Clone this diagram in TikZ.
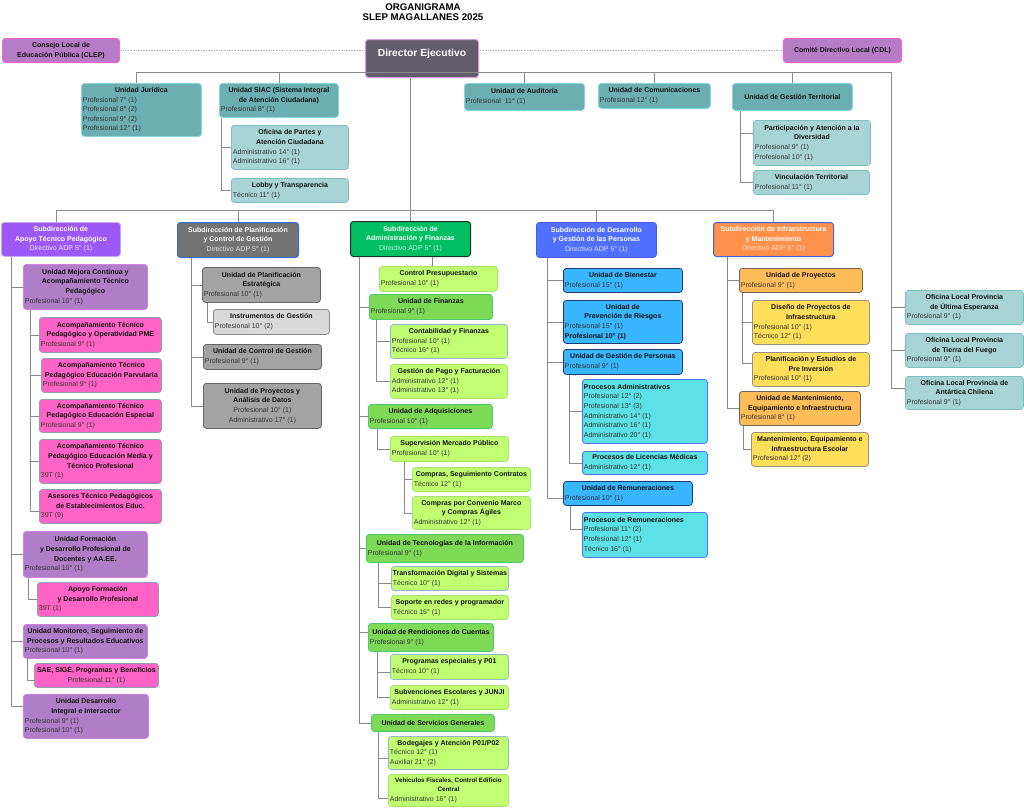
\documentclass[tikz,border=0pt]{standalone}
\usepackage{fontspec}
\setmainfont{Liberation Sans}
\usetikzlibrary{calc}
\definecolor{cTealD}{HTML}{6BAFB3}\definecolor{cTealDb}{HTML}{88D6DA}
\definecolor{cTealL}{HTML}{A8D4D5}\definecolor{cTealLb}{HTML}{7EC0C2}
\definecolor{cClep}{HTML}{B67DC6}\definecolor{cClepb}{HTML}{FF5FC8}
\definecolor{cDir}{HTML}{625E6E}\definecolor{cDirb}{HTML}{D29BE0}
\definecolor{cApoS}{HTML}{9D59F5}\definecolor{cApoSb}{HTML}{C8A8F5}
\definecolor{cPurU}{HTML}{B07DC7}\definecolor{cPurUb}{HTML}{D07FE0}
\definecolor{cPink}{HTML}{FF63C5}\definecolor{cPinkb}{HTML}{8BA0B0}
\definecolor{cPlanS}{HTML}{737373}\definecolor{cPlanSb}{HTML}{2F6FE0}
\definecolor{cGrayU}{HTML}{A3A3A3}\definecolor{cGrayUb}{HTML}{666666}
\definecolor{cGrayL}{HTML}{D9D9D9}\definecolor{cGrayLb}{HTML}{888888}
\definecolor{cAyfS}{HTML}{00BF63}\definecolor{cAyfSb}{HTML}{1E3328}
\definecolor{cLime}{HTML}{C1FF72}\definecolor{cLimeb}{HTML}{A8E46B}\definecolor{cLimec}{HTML}{8FB8C8}
\definecolor{cGreenU}{HTML}{7ED957}\definecolor{cGreenUb}{HTML}{4DC968}
\definecolor{cDesS}{HTML}{5170FF}\definecolor{cDesSb}{HTML}{3F5BE8}
\definecolor{cSky}{HTML}{38B6FF}\definecolor{cSkyb}{HTML}{1F3A78}
\definecolor{cCyan}{HTML}{5CE1E6}\definecolor{cCyanb}{HTML}{4F72F7}
\definecolor{cInfS}{HTML}{FF914D}\definecolor{cInfSb}{HTML}{3E66D6}
\definecolor{cOrgU}{HTML}{FFBD59}\definecolor{cOrgUb}{HTML}{6F6556}
\definecolor{cYel}{HTML}{FFDE59}\definecolor{cYelb}{HTML}{9A9080}
\definecolor{cLine}{HTML}{8A8A8A}\definecolor{cDot}{HTML}{BDBDBD}
\definecolor{ttx}{HTML}{111111}\definecolor{dtx}{HTML}{333333}
\newcommand\bxT[1]{\centerline{\bfseries\color{ttx}#1}}
\newcommand\bxD[1]{\leftline{\color{dtx}#1}}
\newcommand\bxC[1]{\centerline{\color{dtx}#1}}
\newcommand\bxB[1]{\leftline{\bfseries\color{ttx}#1}}
\newcommand\bxW[1]{\centerline{\bfseries\color{white}#1}}
\newcommand\bxS[2]{\centerline{\color{#1}#2}}
\newcommand\ob[7]{%
  \pgfmathsetmacro\obw{#5-#3}\pgfmathsetmacro\obh{#6-#4}\pgfmathsetmacro\obt{#5-#3-3}%
  \node[obox,#2,anchor=north west,minimum width=\obw pt,minimum height=\obh pt] (#1) at (#3,#4) {\vbox{\hsize=\obt pt\relax #7}};}
\begin{document}
\begin{tikzpicture}[x=1pt,y=-1pt,
  obox/.style={rounded corners=3pt,line width=0.8pt,inner xsep=1.5pt,inner ysep=1pt,font=\fontsize{7}{9.6}\selectfont},
  tealD/.style={fill=cTealD,draw=cTealDb},
  tealL/.style={fill=cTealL,draw=cTealLb},
  clepst/.style={fill=cClep,draw=cClepb,line width=1pt},
  apoS/.style={fill=cApoS,draw=cApoSb},
  purU/.style={fill=cPurU,draw=cPurUb},
  pinkB/.style={fill=cPink,draw=cPinkb},
  planS/.style={fill=cPlanS,draw=cPlanSb,line width=1pt},
  grayU/.style={fill=cGrayU,draw=cGrayUb},
  grayL/.style={fill=cGrayL,draw=cGrayLb},
  ayfS/.style={fill=cAyfS,draw=cAyfSb,line width=1pt},
  limeB/.style={fill=cLime,draw=cLimeb},
  limeC/.style={fill=cLime,draw=cLimec},
  greenU/.style={fill=cGreenU,draw=cGreenUb},
  desS/.style={fill=cDesS,draw=cDesSb},
  skyU/.style={fill=cSky,draw=cSkyb},
  cyanB/.style={fill=cCyan,draw=cCyanb},
  infS/.style={fill=cInfS,draw=cInfSb,line width=1pt},
  orgU/.style={fill=cOrgU,draw=cOrgUb},
  yelB/.style={fill=cYel,draw=cYelb},
  dirst/.style={fill=cDir,draw=cDirb,line width=1pt,rounded corners=3pt,text=white,font=\bfseries\fontsize{10.3}{12}\selectfont},
  conn/.style={draw=cLine,line width=0.8pt},
  dotl/.style={draw=cDot,line width=1.3pt,dash pattern=on 1.6pt off 1pt}]
\useasboundingbox (0,0) rectangle (1024,807);
\fill[white] (0,0) rectangle (1024,807);
% coordinates for free ends
\coordinate (hR) at (891,72);
\coordinate (h2) at (0,210);
% title
\node[font=\bfseries\fontsize{9.7}{10}\selectfont,align=center,inner sep=0] (ttl) at (423,12) {ORGANIGRAMA\\SLEP MAGALLANES 2025};
% top
\node[dirst,anchor=north west,minimum width=113pt,minimum height=38pt,text height=7.5pt,text depth=11pt] (dir) at (365,39) {Director Ejecutivo};
\ob{clep}{clepst}{2}{38}{119}{62}{\bxT{Consejo Local de}\bxT{Educación Pública (CLEP)}}
\ob{cdl}{clepst}{783}{38}{901}{62}{\bxT{Comité Directivo Local (CDL)}}
\ob{jur}{tealD}{81}{83}{201}{136}{\bxT{Unidad Jurídica}\bxD{Profesional 7° (1)}\bxD{Profesional 8° (2)}\bxD{Profesional 9° (2)}\bxD{Profesional 12° (1)}}
\ob{siac}{tealD}{219}{83}{338}{117}{\bxT{Unidad SIAC (Sistema Integral}\bxT{de Atención Ciudadana)}\bxD{Profesional 8° (1)}}
\ob{partes}{tealL}{231}{125}{348}{169}{\bxT{Oficina de Partes y}\bxT{Atención Ciudadana}\bxD{Administrativo 14° (1)}\bxD{Administrativo 16° (1)}}
\ob{lobby}{tealL}{231}{178}{348}{202}{\bxT{Lobby y Transparencia}\bxD{Técnico 11° (1)}}
\ob{aud}{tealD}{464}{83}{584}{110}{\bxT{Unidad de Auditoría}\bxD{Profesional~ 11° (1)}}
\ob{com}{tealD}{598}{83}{710}{108}{\bxT{Unidad de Comunicaciones}\bxD{Profesional 12° (1)}}
\ob{ter}{tealD}{732}{83}{852}{110}{\bxT{Unidad de Gestión Territorial}}
\ob{part}{tealL}{753}{120}{870}{165}{\bxT{Participación y Atención a la}\bxT{Diversidad}\bxD{Profesional 9° (1)}\bxD{Profesional 10° (1)}}
\ob{vinc}{tealL}{753}{170}{869}{194}{\bxT{Vinculación Territorial}\bxD{Profesional 11° (1)}}
\ob{ofue}{tealL}{905}{290}{1023}{324}{\bxT{Oficina Local Provincia}\bxT{de Última Esperanza}\bxD{Profesional 9° (1)}}
\ob{oftf}{tealL}{905}{333}{1023}{367}{\bxT{Oficina Local Provincia}\bxT{de Tierra del Fuego}\bxD{Profesional 9° (1)}}
\ob{ofan}{tealL}{905}{376}{1023}{409}{\bxT{Oficina Local Provincia de}\bxT{Antártica Chilena}\bxD{Profesional 9° (1)}}
% subdirections
\ob{sapo}{apoS}{1}{222}{120}{256}{\bxW{Subdirección de}\bxW{Apoyo Técnico Pedagógico}\bxS{white!85!cApoS}{Directivo ADP 5° (1)}}
\ob{splan}{planS}{177}{222}{298}{257}{\bxW{Subdirección de Planificación}\bxW{y Control de Gestión}\bxS{white!80!cPlanS}{Directivo ADP 5° (1)}}
\ob{sayf}{ayfS}{350}{221}{470}{256}{\bxW{Subdirección de}\bxW{Administración y Finanzas}\bxS{white!80!cAyfS}{Directivo ADP 5° (1)}}
\ob{sdes}{desS}{536}{222}{656}{257}{\bxW{Subdirección de Desarrollo}\bxW{y Gestión de las Personas}\bxS{white!80!cDesS}{Directivo ADP 5° (1)}}
\ob{sinf}{infS}{713}{222}{833}{256}{\bxW{Subdirección de Infraestructura}\bxW{y Mantenimiento}\bxS{white!75!cInfS}{Directivo ADP 6° (1)}}
% column 1
\ob{mej}{purU}{23}{264}{147}{309}{\bxT{Unidad Mejora Continua y}\bxT{Acompañamiento Técnico}\bxT{Pedagógico}\bxD{Profesional 10° (1)}}
\ob{pme}{pinkB}{39}{317}{161}{352}{\bxT{Acompañamiento Técnico}\bxT{Pedagógico y Operatividad PME}\bxD{Profesional 9° (1)}}
\ob{parv}{pinkB}{41}{358}{161}{392}{\bxT{Acompañamiento Técnico}\bxT{Pedagógico Educación Parvularia}\bxD{Profesional 9° (1)}}
\ob{esp}{pinkB}{39}{399}{161}{432}{\bxT{Acompañamiento Técnico}\bxT{Pedagógico Educación Especial}\bxD{Profesional 9° (1)}}
\ob{mtp}{pinkB}{39}{439}{161}{483}{\bxT{Acompañamiento Técnico}\bxT{Pedagógico Educación Media y}\bxT{Técnico Profesional}\bxD{39T (1)}}
\ob{ases}{pinkB}{39}{489}{161}{523}{\bxT{Asesores Técnico Pedagógicos}\bxT{de Establecimientos Educ.}\bxD{39T (9)}}
\ob{form}{purU}{23}{531}{147}{577}{\bxT{Unidad Formación}\bxT{y Desarrollo Profesional de}\bxT{Docentes y AA.EE.}\bxD{Profesional 10° (1)}}
\ob{apf}{pinkB}{37}{582}{158}{616}{\bxT{Apoyo Formación}\bxT{y Desarrollo Profesional}\bxD{39T (1)}}
\ob{mon}{purU}{23}{624}{147}{658}{\bxT{Unidad Monitoreo, Seguimiento de}\bxT{Procesos y Resultados Educativos}\bxD{Profesional 10° (1)}}
\ob{sae}{pinkB}{34}{663}{158}{687}{\bxT{SAE, SIGE, Programas y Beneficios}\bxC{Profesional 11° (1)}}
\ob{dint}{purU}{23}{694}{148}{738}{\bxT{Unidad Desarrollo}\bxT{Integral e Intersector}\bxD{Profesional 9° (1)}\bxD{Profesional 10° (1)}}
% column 2
\ob{upe}{grayU}{202}{267}{320}{302}{\bxT{Unidad de Planificación}\bxT{Estratégica}\bxD{Profesional 10° (1)}}
\ob{ins}{grayL}{213}{309}{329}{334}{\bxT{Instrumentos de Gestión}\bxD{Profesional 10° (2)}}
\ob{ucg}{grayU}{203}{344}{321}{369}{\bxT{Unidad de Control de Gestión}\bxD{Profesional 9° (1)}}
\ob{upa}{grayU}{203}{383}{321}{428}{\bxT{Unidad de Proyectos y}\bxT{Análisis de Datos}\bxC{Profesional 10° (1)}\bxC{Administrativo 17° (1)}}
% column 3
\ob{cpr}{limeB}{379}{266}{497}{291}{\bxT{Control Presupuestario}\bxD{Profesional 10° (1)}}
\ob{ufi}{greenU}{369}{294}{492}{319}{\bxT{Unidad de Finanzas}\bxD{Profesional 9° (1)}}
\ob{cyf}{limeC}{390}{324}{507}{358}{\bxT{Contabilidad y Finanzas}\bxD{Profesional 10° (1)}\bxD{Técnico 16° (1)}}
\ob{gpf}{limeB}{390}{364}{507}{398}{\bxT{Gestión de Pago y Facturación}\bxD{Administrativo 12° (1)}\bxD{Administrativo 13° (1)}}
\ob{uad}{greenU}{368}{404}{492}{428}{\bxT{Unidad de Adquisiciones}\bxD{Profesional 10° (1)}}
\ob{smp}{limeB}{390}{436}{508}{461}{\bxT{Supervisión Mercado Público}\bxD{Profesional 10° (1)}}
\ob{csc}{limeB}{412}{467}{530}{491}{\bxT{Compras, Seguimiento Contratos}\bxD{Técnico 12° (1)}}
\ob{ccm}{limeB}{412}{496}{530}{529}{\bxT{Compras por Convenio Marco}\bxT{y Compras Ágiles}\bxD{Administrativo 12° (1)}}
\ob{uti}{greenU}{366}{534}{523}{562}{\bxT{Unidad de Tecnologías de la Información}\bxD{Profesional 9° (1)}}
\ob{tds}{limeC}{391}{566}{508}{590}{\bxT{Transformación Digital y Sistemas}\bxD{Técnico 10° (1)}}
\ob{sop}{limeB}{391}{595}{508}{619}{\bxT{Soporte en redes y programador}\bxD{Técnico 15° (1)}}
\ob{urc}{greenU}{368}{623}{493}{651}{\bxT{Unidad de Rendiciones de Cuentas}\bxD{Profesional 9° (1)}}
\ob{pep}{limeC}{390}{654}{508}{679}{\bxT{Programas especiales y P01}\bxD{Técnico 10° (1)}}
\ob{sub}{limeB}{390}{685}{508}{709}{\bxT{Subvenciones Escolares y JUNJI}\bxD{Administrativo 12° (1)}}
\ob{usg}{greenU}{371}{714}{494}{731}{\bxT{Unidad de Servicios Generales}}
\ob{bod}{limeC}{388}{736}{508}{769}{\bxT{Bodegajes y Atención P01/P02}\bxD{Técnico 12° (1)}\bxD{Auxiliar 21° (2)}}
\ob{veh}{limeB}{388}{774}{508}{806}{\bxT{\fontsize{6.3}{9.6}\selectfont Vehiculos Fiscales, Control Edificio}\bxT{\fontsize{6.3}{9.6}\selectfont Central}\bxD{Administrativo 16° (1)}}
% column 4
\ob{ubi}{skyU}{563}{268}{682}{292}{\bxT{Unidad de Bienestar}\bxD{Profesional 15° (1)}}
\ob{upr}{skyU}{563}{300}{682}{343}{\bxT{Unidad de}\bxT{Prevención de Riesgos}\bxD{Profesional 15° (1)}\bxB{Profesional 10° (1)}}
\ob{ugp}{skyU}{563}{349}{682}{374}{\bxT{Unidad de Gestión de Personas}\bxD{Profesional 9° (1)}}
\ob{pad}{cyanB}{582}{379}{707}{443}{\bxB{Procesos Administrativos}\bxD{Profesional 12° (2)}\bxD{Profesional 13° (3)}\bxD{Administrativo 14° (1)}\bxD{Administrativo 16° (1)}\bxD{Administrativo 20° (1)}}
\ob{plm}{cyanB}{582}{451}{707}{474}{\bxT{Procesos de Licencias Médicas}\bxD{Administrativo 12° (1)}}
\ob{urem}{skyU}{563}{481}{692}{505}{\bxT{Unidad de Remuneraciones}\bxD{Profesional 10° (1)}}
\ob{prem}{cyanB}{582}{512}{707}{557}{\bxB{Procesos de Remuneraciones}\bxD{Profesional 11° (2)}\bxD{Profesional 12° (1)}\bxD{Técnico 16° (1)}}
% column 5
\ob{upy}{orgU}{739}{268}{862}{292}{\bxT{Unidad de Proyectos}\bxD{Profesional 9° (1)}}
\ob{dpi}{yelB}{752}{300}{869}{344}{\bxT{Diseño de Proyectos de}\bxT{Infraestructura}\bxD{Profesional 10° (1)}\bxD{Técnico 12° (1)}}
\ob{pei}{yelB}{752}{352}{869}{386}{\bxT{Planificación y Estudios de}\bxT{Pre Inversión}\bxD{Profesional 10° (1)}}
\ob{umt}{orgU}{739}{391}{860}{425}{\bxT{Unidad de Mantenimiento,}\bxT{Equipamiento e Infraestructura}\bxD{Profesional 8° (1)}}
\ob{mei}{yelB}{751}{432}{868}{466}{\bxT{Mantenimiento, Equipamiento e}\bxT{Infraestructura Escolar}\bxD{Profesional 12° (2)}}
% connectors
\begin{scope}[on background layer/.try]
\end{scope}
\draw[dotl] (clep.east) -- (clep.east -| dir.west);
\draw[dotl] (cdl.west) -- (cdl.west -| dir.east);
\draw[conn] ([xshift=-5pt]jur.north) |- (hR) |- ([yshift=5pt]ofan.west);
\draw[conn] (hR) |- (ofue.west);
\draw[conn] (hR) |- (oftf.west);
\foreach \n in {siac,aud,com,ter} \draw[conn] (\n.north) -- (\n.north |- hR);
\draw[conn] ([xshift=2pt]siac.south west) |- (partes.west);
\draw[conn] ([xshift=2pt]siac.south west) |- (lobby.west);
\draw[conn] ([xshift=8pt]ter.south west) |- ([yshift=10pt]part.west);
\draw[conn] ([xshift=8pt]ter.south west) |- (vinc.west);
\draw[conn] (sayf.north) -- (sayf.north |- dir.south);
\draw[conn] ([xshift=-5pt]sapo.north) |- (sinf.north |- h2) -- (sinf.north);
\draw[conn] (splan.north) -- (splan.north |- h2);
\draw[conn] (sdes.north) -- (sdes.north |- h2);
% col 1
\draw[conn] ([xshift=10pt]sapo.south west) |- (mej.west);
\draw[conn] ([xshift=10pt]sapo.south west) |- (form.west);
\draw[conn] ([xshift=10pt]sapo.south west) |- (mon.west);
\draw[conn] ([xshift=10pt]sapo.south west) |- ([yshift=10pt]dint.west);
\foreach \n in {pme,parv,esp,mtp} \draw[conn] ([xshift=7pt]mej.south west) |- (\n.west);
\draw[conn] ([xshift=7pt]mej.south west) |- ([yshift=-5pt]ases.west);
\draw[conn] ([xshift=5pt]form.south west) |- (apf.west);
\draw[conn] ([xshift=4pt]mon.south west) |- ([yshift=-5pt]sae.west);
% col 2
\foreach \n in {upe,ucg,upa} \draw[conn] ([xshift=14pt]splan.south west) |- (\n.west);
\draw[conn] ([xshift=5pt]upe.south west) |- (ins.west);
% col 3
\draw[conn] ([xshift=-6pt]cpr.north) -- ([xshift=-6pt]cpr.north |- sayf.south);
\foreach \n in {ufi,uad,uti,usg} \draw[conn] ([xshift=9pt]sayf.south west) |- (\n.west);
\draw[conn] ([xshift=9pt]sayf.south west) |- ([yshift=5pt]urc.west);
\foreach \n in {cyf,gpf} \draw[conn] ([xshift=7pt]ufi.south west) |- (\n.west);
\draw[conn] ([xshift=9pt]uad.south west) |- (smp.west);
\foreach \n in {csc,ccm} \draw[conn] ([xshift=14pt]smp.south west) |- (\n.west);
\draw[conn] ([xshift=12pt]uti.south west) |- ([yshift=-5pt]tds.west);
\draw[conn] ([xshift=12pt]uti.south west) |- (sop.west);
\draw[conn] ([xshift=9pt]urc.south west) |- ([yshift=-5pt]pep.west);
\draw[conn] ([xshift=9pt]urc.south west) |- (sub.west);
\draw[conn] ([xshift=7pt]usg.south west) |- ([yshift=-5pt]bod.west);
\draw[conn] ([xshift=7pt]usg.south west) |- ([yshift=-8pt]veh.west);
% col 4
\foreach \n in {ubi,upr,ugp} \draw[conn] ([xshift=11pt]sdes.south west) |- (\n.west);
\draw[conn] ([xshift=11pt]sdes.south west) |- ([yshift=-5pt]urem.west);
\foreach \n in {pad,plm} \draw[conn] ([xshift=6pt]ugp.south west) |- (\n.west);
\draw[conn] ([xshift=7pt]urem.south west) |- ([yshift=6pt]prem.west);
% col 5
\foreach \n in {upy,umt} \draw[conn] ([xshift=14pt]sinf.south west) |- (\n.west);
\draw[conn] ([xshift=3pt]upy.south west) |- (dpi.west);
\draw[conn] ([xshift=3pt]upy.south west) |- ([yshift=6pt]pei.west);
\draw[conn] ([xshift=4pt]umt.south west) |- (mei.west);
\end{tikzpicture}
\end{document}
